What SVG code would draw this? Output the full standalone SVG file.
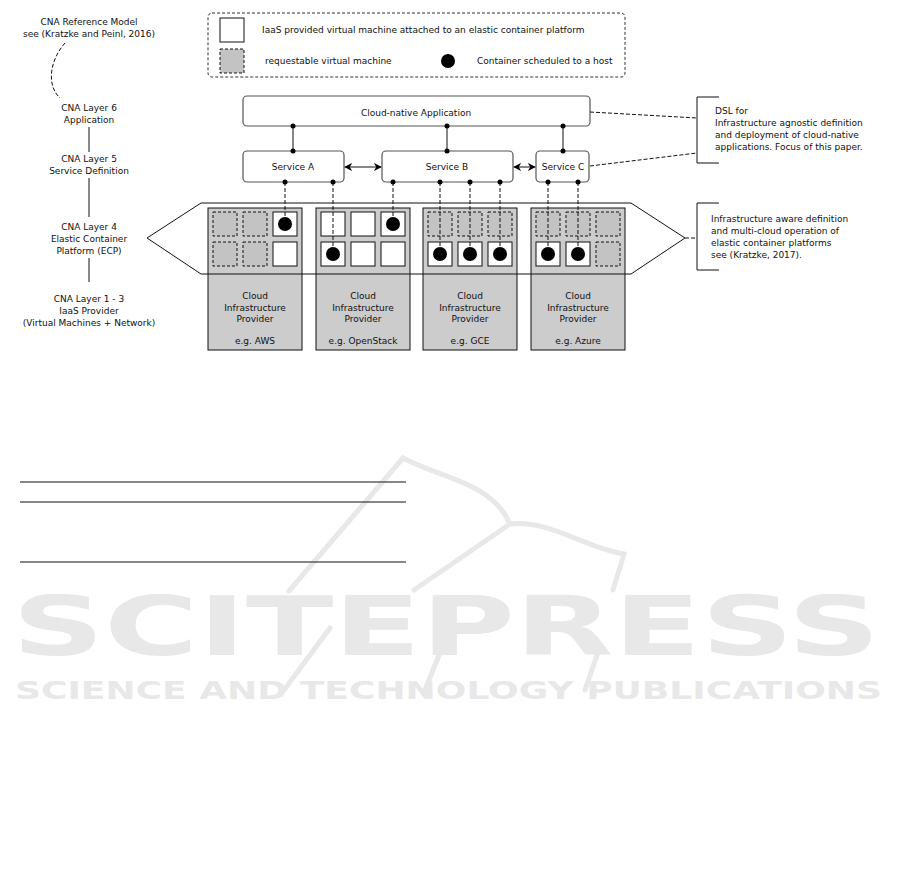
<svg xmlns="http://www.w3.org/2000/svg" width="901" height="884" viewBox="0 0 901 884">
<defs>
<style>
text{font-family:"DejaVu Sans",sans-serif;font-size:9px;fill:#111}
.c{text-anchor:middle}
.box{fill:#fff;stroke:#555;stroke-width:1.2}
.prov{fill:#cccccc;stroke:#111;stroke-width:1}
.vm{fill:#fff;stroke:#111;stroke-width:1}
.rvm{fill:#c3c3c3;stroke:#111;stroke-width:1;stroke-dasharray:3 2}
.dot{fill:#000}
.ln{stroke:#111;stroke-width:1;fill:none}
.dl{stroke:#111;stroke-width:1;fill:none;stroke-dasharray:4 2}
text.wm1{font-family:"DejaVu Sans",sans-serif;font-weight:bold;fill:#e8e8e8;font-size:82px}
text.wm2{font-family:"DejaVu Sans",sans-serif;font-weight:bold;fill:#e8e8e8;font-size:25px}
.wl{stroke:#e8e8e8;stroke-width:5;fill:none;stroke-linecap:round}
</style>
<marker id="ah" viewBox="0 0 10 10" refX="9" refY="5" markerWidth="8" markerHeight="8" markerUnits="userSpaceOnUse" orient="auto-start-reverse">
<path d="M0,0 L10,5 L0,10 L3,5 z" fill="#000"/>
</marker>
</defs>

<g id="watermark">
<path class="wl" d="M289,591 L403,458 C440,478 492,482 510,524 C552,520 584,548 624,554 L613,590"/>
<path class="wl" d="M510,524 L414,590"/>
<path class="wl" d="M330,628 L284,690"/>
<path class="wl" d="M445,640 L425,690"/>
<path class="wl" d="M598,652 L585,690"/>
<text class="wm1" x="12" y="655" textLength="868" lengthAdjust="spacingAndGlyphs">SCITEPRESS</text>
<text class="wm2" x="15" y="699" textLength="867" lengthAdjust="spacingAndGlyphs">SCIENCE AND TECHNOLOGY PUBLICATIONS</text>
</g>

<g id="table-lines">
<line class="ln" x1="20" y1="482" x2="406" y2="482"/>
<line class="ln" x1="20" y1="502" x2="406" y2="502"/>
<line class="ln" x1="20" y1="562" x2="406" y2="562"/>
</g>

<g id="legend">
<rect x="208" y="13" width="417" height="64" rx="4" fill="none" stroke="#333" stroke-width="1" stroke-dasharray="3 2"/>
<rect class="vm" x="220" y="18" width="24" height="24"/>
<text x="262" y="33">IaaS provided virtual machine attached to an elastic container platform</text>
<rect class="rvm" x="220" y="49" width="24" height="24"/>
<text x="265" y="64">requestable virtual machine</text>
<circle class="dot" cx="448" cy="61" r="7"/>
<text x="477" y="64">Container scheduled to a host</text>
</g>

<g id="layers">
<text class="c" x="89" y="25">CNA Reference Model</text>
<text class="c" x="89" y="37">see (Kratzke and Peinl, 2016)</text>
<text class="c" x="89" y="111">CNA Layer 6</text>
<text class="c" x="89" y="123">Application</text>
<text class="c" x="89" y="162">CNA Layer 5</text>
<text class="c" x="89" y="174">Service Definition</text>
<text class="c" x="89" y="230">CNA Layer 4</text>
<text class="c" x="89" y="242">Elastic Container</text>
<text class="c" x="89" y="254">Platform (ECP)</text>
<text class="c" x="89" y="302">CNA Layer 1 - 3</text>
<text class="c" x="89" y="314">IaaS Provider</text>
<text class="c" x="89" y="326">(Virtual Machines + Network)</text>
<path class="dl" d="M65,43 C50,60 46,85 60,98"/>
<line class="ln" x1="89" y1="127" x2="89" y2="152"/>
<line class="ln" x1="89" y1="178" x2="89" y2="217"/>
<line class="ln" x1="89" y1="258" x2="89" y2="282"/>
</g>

<g id="app">
<rect class="box" x="243" y="96" width="347" height="30" rx="4"/>
<text class="c" x="416" y="116">Cloud-native Application</text>
</g>
<g id="service-a">
<rect class="box" x="243" y="151" width="101" height="31" rx="4"/>
<text class="c" x="293" y="170">Service A</text>
</g>
<g id="service-b">
<rect class="box" x="382" y="151" width="131" height="31" rx="4"/>
<text class="c" x="447" y="170">Service B</text>
</g>
<g id="service-c">
<rect class="box" x="536" y="151" width="53" height="31" rx="4"/>
<text class="c" x="563" y="170">Service C</text>
</g>

<g id="provider-aws">
<rect class="prov" x="208" y="208" width="94" height="142"/>
<rect class="rvm" x="213" y="212" width="24" height="24"/>
<rect class="rvm" x="243" y="212" width="24" height="24"/>
<rect class="vm" x="273" y="212" width="24" height="24"/>
<circle class="dot" cx="285" cy="224" r="7"/>
<rect class="rvm" x="213" y="242" width="24" height="24"/>
<rect class="rvm" x="243" y="242" width="24" height="24"/>
<rect class="vm" x="273" y="242" width="24" height="24"/>
<text class="c" x="255" y="299">Cloud</text>
<text class="c" x="255" y="311">Infrastructure</text>
<text class="c" x="255" y="322">Provider</text>
<text class="c" x="255" y="344">e.g. AWS</text>
</g>
<g id="provider-openstack">
<rect class="prov" x="316" y="208" width="94" height="142"/>
<rect class="vm" x="321" y="212" width="24" height="24"/>
<rect class="vm" x="351" y="212" width="24" height="24"/>
<rect class="vm" x="381" y="212" width="24" height="24"/>
<circle class="dot" cx="393" cy="224" r="7"/>
<rect class="vm" x="321" y="242" width="24" height="24"/>
<circle class="dot" cx="333" cy="254" r="7"/>
<rect class="vm" x="351" y="242" width="24" height="24"/>
<rect class="vm" x="381" y="242" width="24" height="24"/>
<text class="c" x="363" y="299">Cloud</text>
<text class="c" x="363" y="311">Infrastructure</text>
<text class="c" x="363" y="322">Provider</text>
<text class="c" x="363" y="344">e.g. OpenStack</text>
</g>
<g id="provider-gce">
<rect class="prov" x="423" y="208" width="94" height="142"/>
<rect class="rvm" x="428" y="212" width="24" height="24"/>
<rect class="rvm" x="458" y="212" width="24" height="24"/>
<rect class="rvm" x="488" y="212" width="24" height="24"/>
<rect class="vm" x="428" y="242" width="24" height="24"/>
<circle class="dot" cx="440" cy="254" r="7"/>
<rect class="vm" x="458" y="242" width="24" height="24"/>
<circle class="dot" cx="470" cy="254" r="7"/>
<rect class="vm" x="488" y="242" width="24" height="24"/>
<circle class="dot" cx="500" cy="254" r="7"/>
<text class="c" x="470" y="299">Cloud</text>
<text class="c" x="470" y="311">Infrastructure</text>
<text class="c" x="470" y="322">Provider</text>
<text class="c" x="470" y="344">e.g. GCE</text>
</g>
<g id="provider-azure">
<rect class="prov" x="531" y="208" width="94" height="142"/>
<rect class="rvm" x="536" y="212" width="24" height="24"/>
<rect class="rvm" x="566" y="212" width="24" height="24"/>
<rect class="rvm" x="596" y="212" width="24" height="24"/>
<rect class="vm" x="536" y="242" width="24" height="24"/>
<circle class="dot" cx="548" cy="254" r="7"/>
<rect class="vm" x="566" y="242" width="24" height="24"/>
<circle class="dot" cx="578" cy="254" r="7"/>
<rect class="rvm" x="596" y="242" width="24" height="24"/>
<text class="c" x="578" y="299">Cloud</text>
<text class="c" x="578" y="311">Infrastructure</text>
<text class="c" x="578" y="322">Provider</text>
<text class="c" x="578" y="344">e.g. Azure</text>
</g>

<g id="ecp-band">
<polygon points="201,203 631,203 685,238 631,274 201,274 147,238" fill="none" stroke="#111" stroke-width="1"/>
</g>

<g id="note-dsl">
<path class="ln" d="M719,97 L697,97 L697,163 L719,163" stroke-width="1.2"/>
<text x="715" y="114">DSL for</text>
<text x="715" y="126">Infrastructure agnostic definition</text>
<text x="715" y="138">and deployment of cloud-native</text>
<text x="715" y="150">applications. Focus of this paper.</text>
</g>
<g id="note-ecp">
<path class="ln" d="M719,203 L697,203 L697,270 L719,270" stroke-width="1.2"/>
<text x="711" y="222">Infrastructure aware definition</text>
<text x="711" y="234">and multi-cloud operation of</text>
<text x="711" y="246">elastic container platforms</text>
<text x="711" y="258">see (Kratzke, 2017).</text>
</g>

<g id="connectors">
<line class="ln" x1="293" y1="126" x2="293" y2="151"/>
<line class="ln" x1="447" y1="126" x2="447" y2="151"/>
<line class="ln" x1="563" y1="126" x2="563" y2="151"/>
<circle class="dot" cx="293" cy="126" r="2.5"/><circle class="dot" cx="293" cy="151" r="2.5"/>
<circle class="dot" cx="447" cy="126" r="2.5"/><circle class="dot" cx="447" cy="151" r="2.5"/>
<circle class="dot" cx="563" cy="126" r="2.5"/><circle class="dot" cx="563" cy="151" r="2.5"/>
<line class="ln" x1="345" y1="167" x2="381" y2="167" marker-start="url(#ah)" marker-end="url(#ah)"/>
<line class="ln" x1="514" y1="167" x2="535" y2="167" marker-start="url(#ah)" marker-end="url(#ah)"/>
<line class="dl" x1="285" y1="182" x2="285" y2="224"/>
<line class="dl" x1="333" y1="182" x2="333" y2="254"/>
<line class="dl" x1="393" y1="182" x2="393" y2="224"/>
<line class="dl" x1="440" y1="182" x2="440" y2="254"/>
<line class="dl" x1="470" y1="182" x2="470" y2="254"/>
<line class="dl" x1="500" y1="182" x2="500" y2="254"/>
<line class="dl" x1="548" y1="182" x2="548" y2="254"/>
<line class="dl" x1="578" y1="182" x2="578" y2="254"/>
<circle class="dot" cx="285" cy="182" r="2.5"/>
<circle class="dot" cx="333" cy="182" r="2.5"/>
<circle class="dot" cx="393" cy="182" r="2.5"/>
<circle class="dot" cx="440" cy="182" r="2.5"/>
<circle class="dot" cx="470" cy="182" r="2.5"/>
<circle class="dot" cx="500" cy="182" r="2.5"/>
<circle class="dot" cx="548" cy="182" r="2.5"/>
<circle class="dot" cx="578" cy="182" r="2.5"/>
<line class="dl" x1="590" y1="112" x2="697" y2="118"/>
<line class="dl" x1="590" y1="166" x2="697" y2="153"/>
<line class="dl" x1="685" y1="238" x2="697" y2="238"/>
</g>
</svg>
